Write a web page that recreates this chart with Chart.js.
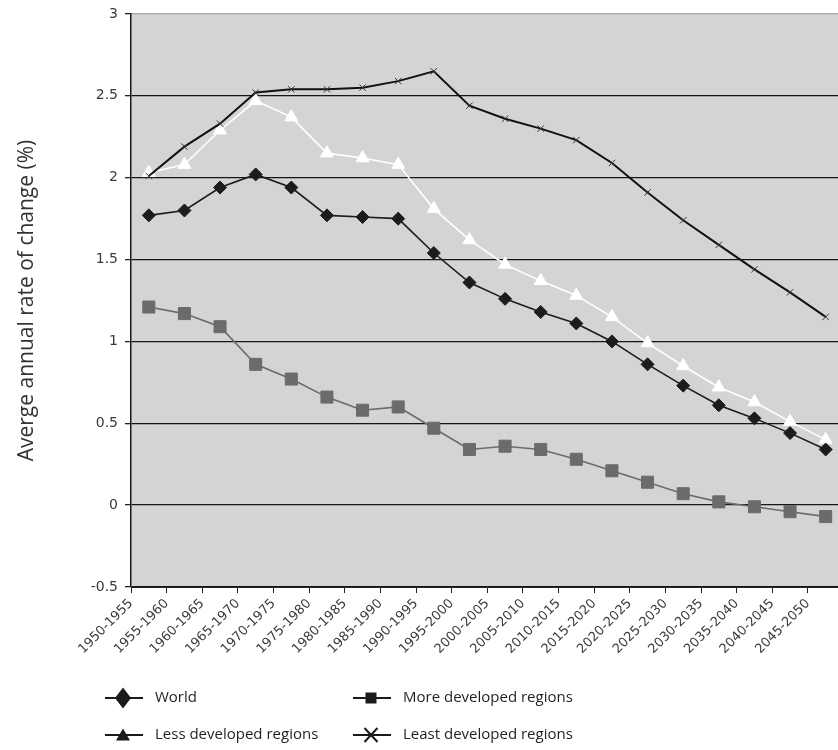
<!DOCTYPE html>
<html>
<head>
<meta charset="utf-8">
<script src="https://cdn.jsdelivr.net/npm/chart.js@4.4.0/dist/chart.umd.min.js"></script>
<style>
  html, body { margin: 0; padding: 0; background: #fff; overflow: hidden; width: 838px; height: 750px; }
  canvas { display: block; }
</style>
</head>
<body>
<canvas id="chart" width="853" height="750"></canvas>
<script>
// Five-year periods
const periods = [
  '1950-1955', '1955-1960', '1960-1965', '1965-1970', '1970-1975',
  '1975-1980', '1980-1985', '1985-1990', '1990-1995', '1995-2000',
  '2000-2005', '2005-2010', '2010-2015', '2015-2020', '2020-2025',
  '2025-2030', '2030-2035', '2035-2040', '2040-2045', '2045-2050'
];

// Average annual rate of population change (%)
const world = [1.77, 1.80, 1.94, 2.02, 1.94, 1.77, 1.76, 1.75, 1.54, 1.36,
               1.26, 1.18, 1.11, 1.00, 0.86, 0.73, 0.61, 0.53, 0.44, 0.34];
const moreDeveloped = [1.21, 1.17, 1.09, 0.86, 0.77, 0.66, 0.58, 0.60, 0.47, 0.34,
                       0.36, 0.34, 0.28, 0.21, 0.14, 0.07, 0.02, -0.01, -0.04, -0.07];
const lessDeveloped = [2.03, 2.08, 2.29, 2.47, 2.37, 2.15, 2.12, 2.08, 1.81, 1.62,
                       1.47, 1.37, 1.28, 1.15, 0.99, 0.85, 0.72, 0.63, 0.51, 0.40];
const leastDeveloped = [2.01, 2.19, 2.33, 2.52, 2.54, 2.54, 2.55, 2.59, 2.65, 2.44,
                        2.36, 2.30, 2.23, 2.09, 1.91, 1.74, 1.59, 1.44, 1.30, 1.15];

// Value axis ticks
const yTickValues = [-0.5, 0, 0.5, 1, 1.5, 2, 2.5, 3];
const yTickLabels = ['-0.5', '0', '0.5', '1', '1.5', '2', '2.5', '3'];

// Grey plotting area
const plotBackground = {
  id: 'plotBackground',
  beforeDraw(chart) {
    const { ctx, chartArea: a } = chart;
    ctx.save();
    ctx.fillStyle = '#d4d4d4';
    ctx.fillRect(a.left, a.top, a.right - a.left, a.bottom - a.top);
    ctx.restore();
  }
};

// Two-column legend below the axis, black markers
const legendLayout = [
  { x: 105, y: 698 }, { x: 353, y: 698 },
  { x: 105, y: 735 }, { x: 353, y: 735 }
];
function legendMarker(ctx, style, cx, cy) {
  ctx.beginPath();
  if (style === 'rectRot') {
    ctx.moveTo(cx, cy - 10.5); ctx.lineTo(cx + 8, cy); ctx.lineTo(cx, cy + 10.5); ctx.lineTo(cx - 8, cy);
    ctx.closePath(); ctx.fill();
  } else if (style === 'rect') {
    ctx.fillRect(cx - 5.5, cy - 5.5, 11, 11);
  } else if (style === 'triangle') {
    ctx.moveTo(cx, cy - 6.5); ctx.lineTo(cx + 7, cy + 5.5); ctx.lineTo(cx - 7, cy + 5.5);
    ctx.closePath(); ctx.fill();
  } else if (style === 'crossRot') {
    ctx.lineWidth = 2;
    ctx.moveTo(cx - 6.5, cy - 7); ctx.lineTo(cx + 6.5, cy + 7);
    ctx.moveTo(cx + 6.5, cy - 7); ctx.lineTo(cx - 6.5, cy + 7);
    ctx.stroke();
  }
}
const blockLegend = {
  id: 'blockLegend',
  afterDraw(chart) {
    const ctx = chart.ctx;
    ctx.save();
    ctx.font = '15px "Open Sans"';
    ctx.textBaseline = 'middle';
    ctx.textAlign = 'left';
    chart.data.datasets.forEach((ds, i) => {
      const p = legendLayout[i];
      ctx.strokeStyle = '#1a1a1a';
      ctx.fillStyle = '#1a1a1a';
      ctx.lineWidth = 2;
      ctx.beginPath();
      ctx.moveTo(p.x, p.y); ctx.lineTo(p.x + 38, p.y);
      ctx.stroke();
      legendMarker(ctx, ds.pointStyle, p.x + 18, p.y);
      ctx.fillStyle = '#231f20';
      ctx.fillText(ds.label, p.x + 50, p.y);
    });
    ctx.restore();
  }
};

new Chart(document.getElementById('chart'), {
  type: 'line',
  data: {
    labels: periods,
    datasets: [
      {
        label: 'World', data: world, order: 1,
        borderColor: '#1c1c1c', backgroundColor: '#1c1c1c', borderWidth: 1.6,
        pointStyle: 'rectRot', pointRadius: 6.5, pointBorderWidth: 1
      },
      {
        label: 'More developed regions', data: moreDeveloped, order: 3,
        borderColor: '#6b6b6b', backgroundColor: '#6b6b6b', borderWidth: 1.6,
        pointStyle: 'rect', pointRadius: 8.5, pointBorderWidth: 1
      },
      {
        label: 'Less developed regions', data: lessDeveloped, order: 2,
        borderColor: '#ffffff', backgroundColor: '#ffffff', borderWidth: 1.6,
        pointStyle: 'triangle', pointRadius: 7.5, pointBorderWidth: 1
      },
      {
        label: 'Least developed regions', data: leastDeveloped, order: 0,
        borderColor: '#111111', backgroundColor: '#111111', borderWidth: 2,
        pointStyle: 'crossRot', pointRadius: 4.5, pointBorderWidth: 1, pointBorderColor: '#333333'
      }
    ]
  },
  options: {
    responsive: false,
    animation: false,
    events: [],
    layout: { padding: { top: 14, left: 0, right: 0, bottom: 0 } },
    plugins: { legend: { display: false }, tooltip: { enabled: false } },
    elements: { line: { tension: 0 } },
    scales: {
      x: {
        type: 'category',
        offset: true,
        grid: { offset: true, drawOnChartArea: false, tickLength: 6, color: '#222', lineWidth: 1 },
        border: { display: true, color: '#222', width: 1 },
        ticks: {
          autoSkip: false, minRotation: 45, maxRotation: 45,
          labelOffset: -17.8, padding: 3,
          color: '#3a3a3a',
          font: { family: '"DejaVu Sans", sans-serif', size: 13 }
        },
        afterFit(s) { s.height = 163; s.paddingLeft = 0; s.paddingRight = 0; }
      },
      y: {
        min: -0.5, max: 3,
        afterBuildTicks(s) { s.ticks = yTickValues.map(v => ({ value: v })); },
        ticks: {
          color: '#3a3a3a', padding: 7,
          font: { family: '"DejaVu Sans", sans-serif', size: 14 },
          callback: (v) => yTickLabels[yTickValues.indexOf(v)]
        },
        grid: {
          color: (c) => (c.tick && c.tick.value === 3 ? '#a8a8a8' : '#161616'),
          tickColor: '#222', lineWidth: 1.3, tickLength: 6
        },
        border: { color: '#1a1a1a', width: 1.5 },
        title: {
          display: true, text: 'Averge annual rate of change (%)',
          color: '#333', font: { family: '"Open Sans", sans-serif', size: 21 },
          padding: { top: 14.5, bottom: 0 }
        },
        afterFit(s) { s.width = 131; s.paddingTop = 0; s.paddingBottom = 0; }
      }
    }
  },
  plugins: [plotBackground, blockLegend]
});
</script>
</body>
</html>
